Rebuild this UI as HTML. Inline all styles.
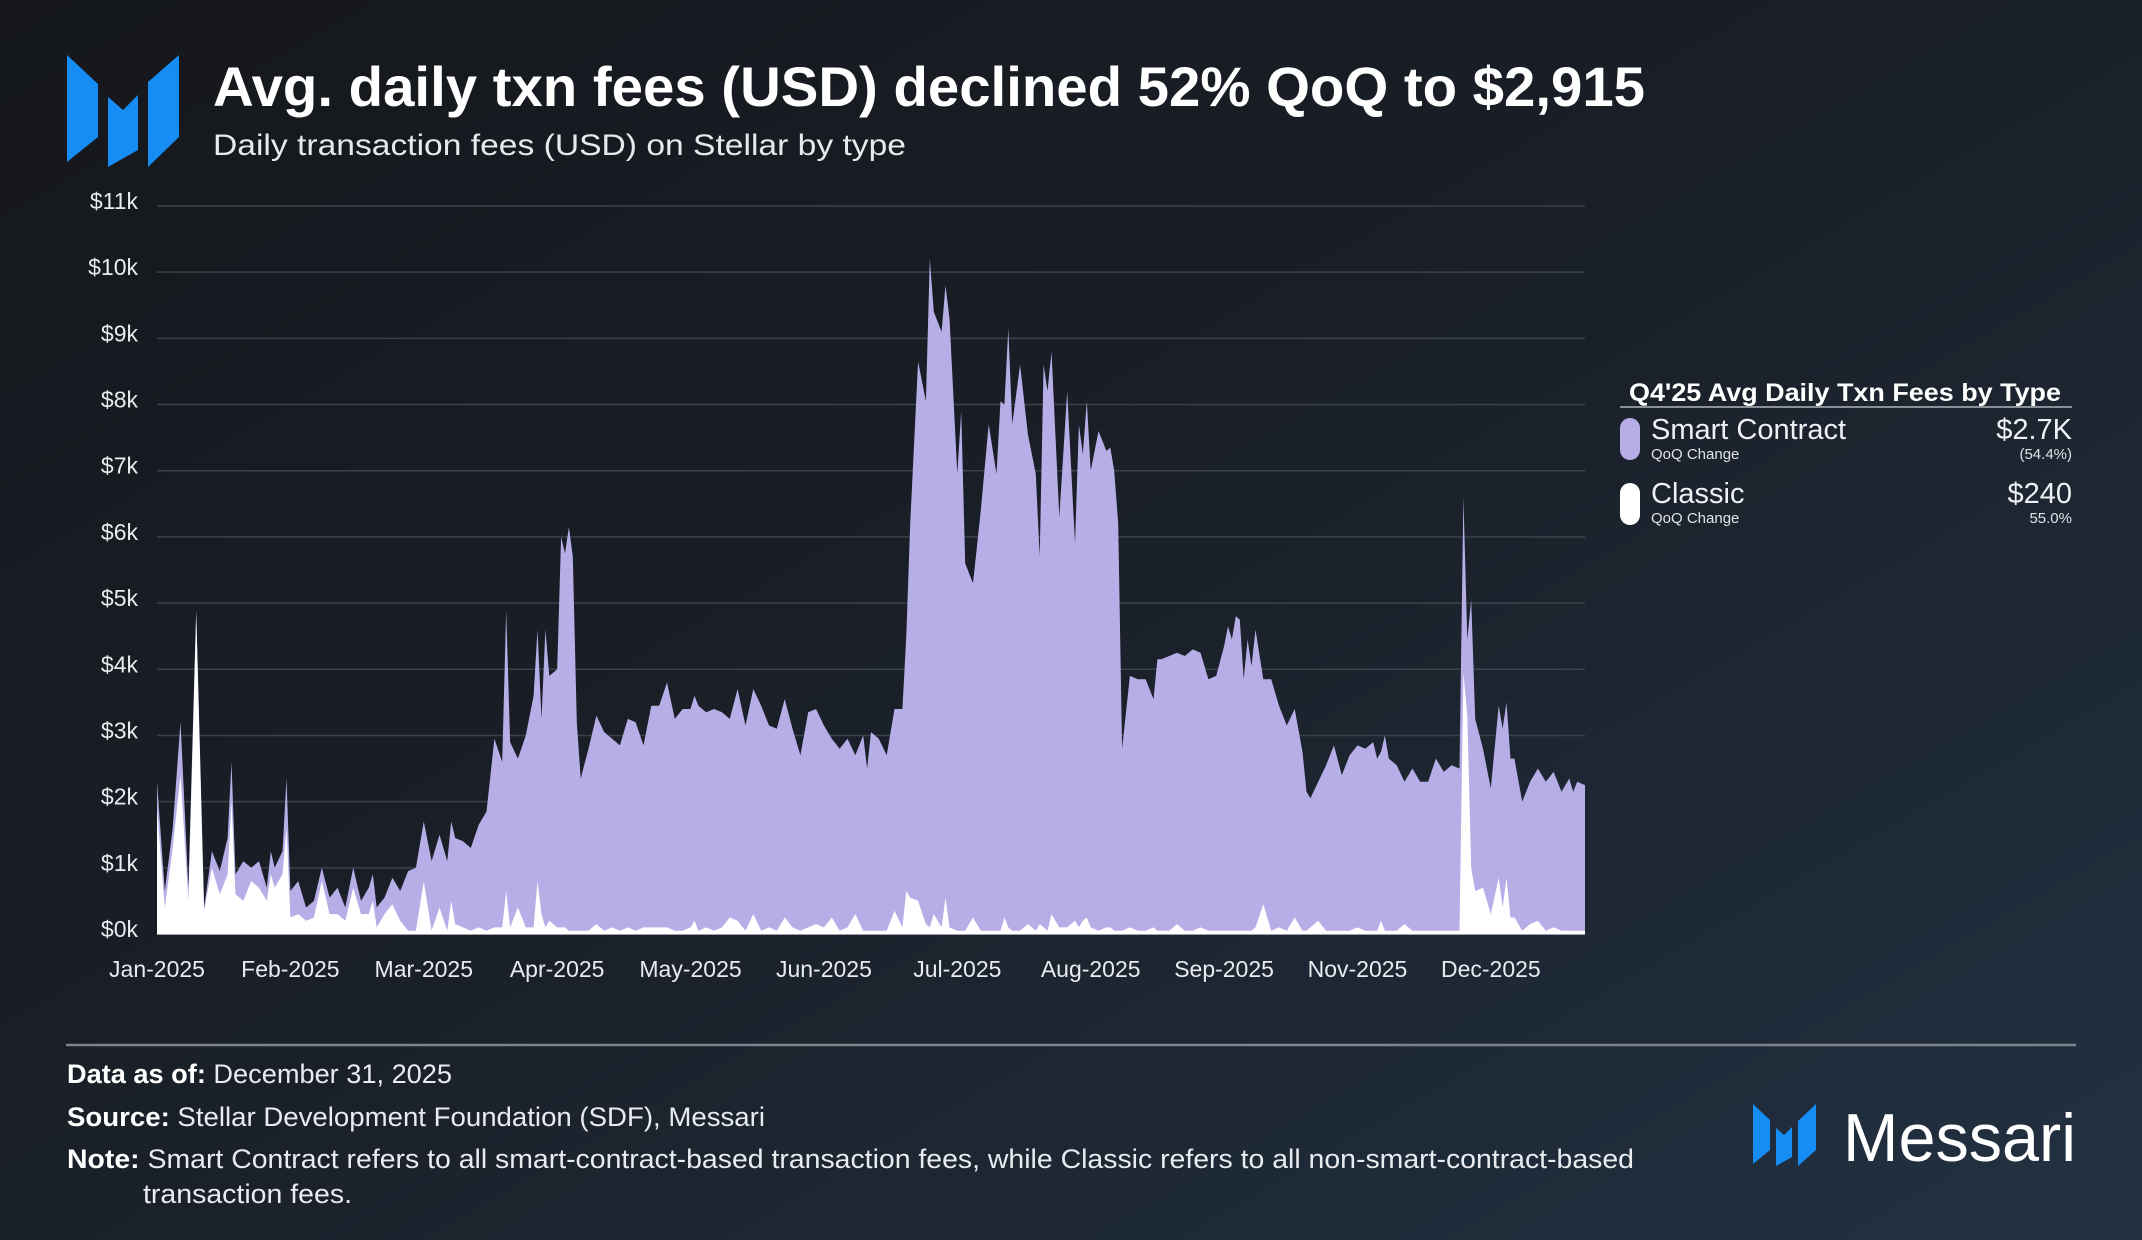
<!DOCTYPE html>
<html><head><meta charset="utf-8"><style>
html,body{margin:0;padding:0;width:2142px;height:1240px;overflow:hidden;background:#1a1f26;}
svg{display:block;font-family:"Liberation Sans",sans-serif;}
</style></head><body>
<svg id="root" width="2142" height="1240" viewBox="0 0 2142 1240">
<defs>
<linearGradient id="bg" x1="0" y1="0" x2="1" y2="1">
<stop offset="0" stop-color="#15171b"/><stop offset="0.5" stop-color="#1a2029"/><stop offset="1" stop-color="#223142"/>
</linearGradient>
</defs>
<rect x="0" y="0" width="2142" height="1240" fill="url(#bg)"/>
<g fill="#168df5">
<polygon points="67,55 98,84 98,137 67,162"/>
<polygon points="108,97 123,110 138,95 138,150 108,167"/>
<polygon points="148,82 179,55 179,137 148,167"/>
</g>
<text x="213" y="106" font-size="56" font-weight="bold" fill="#ffffff" textLength="1432" lengthAdjust="spacingAndGlyphs">Avg. daily txn fees (USD) declined 52% QoQ to $2,915</text>
<text x="213" y="155" font-size="30" fill="#e6e9ee" textLength="693" lengthAdjust="spacingAndGlyphs">Daily transaction fees (USD) on Stellar by type</text>
<g id="grid"></g>
<g id="yticks"></g>
<g id="plot"></g>
<g id="xticks"></g>
<g>
<text x="1845" y="401" font-size="25" font-weight="bold" fill="#ffffff" text-anchor="middle" textLength="432" lengthAdjust="spacingAndGlyphs">Q4'25 Avg Daily Txn Fees by Type</text>
<line x1="1620" y1="407" x2="2072" y2="407" stroke="#8a9099" stroke-width="2"/>
<g>
<rect x="1620" y="418" width="20" height="42" rx="10" fill="#b7aee8"/>
<text x="1651" y="439" font-size="29" fill="#eef1f4">Smart Contract</text>
<text x="1651" y="459" font-size="15" fill="#dfe3e8">QoQ Change</text>
<text x="2072" y="439" font-size="29" fill="#eef1f4" text-anchor="end">$2.7K</text>
<text x="2072" y="459" font-size="15" fill="#dfe3e8" text-anchor="end">(54.4%)</text>
</g>
<g>
<rect x="1620" y="483" width="20" height="42" rx="10" fill="#ffffff"/>
<text x="1651" y="503" font-size="29" fill="#eef1f4">Classic</text>
<text x="1651" y="523" font-size="15" fill="#dfe3e8">QoQ Change</text>
<text x="2072" y="503" font-size="29" fill="#eef1f4" text-anchor="end">$240</text>
<text x="2072" y="523" font-size="15" fill="#dfe3e8" text-anchor="end">55.0%</text>
</g>
</g>
<line x1="66" y1="1045" x2="2076" y2="1045" stroke="#7d848e" stroke-width="2.5"/>
<text x="67" y="1083" font-size="27" fill="#e8ebef" textLength="385" lengthAdjust="spacingAndGlyphs"><tspan font-weight="bold" fill="#ffffff">Data as of:</tspan> December 31, 2025</text>
<text x="67" y="1126" font-size="27" fill="#e8ebef" textLength="698" lengthAdjust="spacingAndGlyphs"><tspan font-weight="bold" fill="#ffffff">Source:</tspan> Stellar Development Foundation (SDF), Messari</text>
<text x="67" y="1168" font-size="27" fill="#e8ebef" textLength="1567" lengthAdjust="spacingAndGlyphs"><tspan font-weight="bold" fill="#ffffff">Note:</tspan> Smart Contract refers to all smart-contract-based transaction fees, while Classic refers to all non-smart-contract-based</text>
<text x="143" y="1203" font-size="27" fill="#e8ebef" textLength="209" lengthAdjust="spacingAndGlyphs">transaction fees.</text>
<g>
<g fill="#168df5">
<polygon points="1753,1104 1770,1120 1770,1150 1753,1164"/>
<polygon points="1776,1128 1784,1135 1792,1127 1792,1157 1776,1166"/>
<polygon points="1798,1121 1816,1104 1816,1150 1798,1166"/>
</g>
<text x="1843" y="1161" font-size="68" fill="#ffffff" textLength="233" lengthAdjust="spacingAndGlyphs">Messari</text>
</g>
</svg>
<script>
const days = [0,2,4,6,8,10,12,14,16,18,19,20,22,24,26,28,29,30,32,33,34,36,38,40,42,44,46,48,50,52,54,55,56,58,60,62,64,66,68,70,72,74,75,76,78,80,82,84,86,88,89,90,92,94,96,97,98,99,100,102,103,104,105,106,107,108,110,112,114,116,118,120,122,124,126,128,130,132,134,136,137,138,140,142,144,146,148,150,152,154,156,158,160,162,164,166,168,170,172,174,176,178,180,181,182,184,186,188,190,191,192,194,196,197,198,200,201,202,204,205,206,208,210,212,214,215,216,217,218,220,222,224,225,226,227,228,230,232,234,235,236,237,238,240,242,243,244,245,246,248,250,252,254,255,256,258,260,262,264,266,268,270,272,273,274,275,276,277,278,279,280,282,284,286,288,290,292,293,294,296,298,300,302,304,306,308,310,311,312,313,314,316,318,320,322,324,326,328,330,332,333,334,335,336,338,340,342,343,344,345,346,348,350,352,354,356,358,360,361,362,364];
const totalFeesK = [2.3,0.65,1.6,3.2,0.7,4.9,0.4,1.25,0.95,1.45,2.6,0.9,1.1,1.0,1.1,0.7,1.25,1.0,1.25,2.35,0.65,0.8,0.4,0.5,1.0,0.55,0.7,0.4,1.0,0.5,0.7,0.9,0.4,0.55,0.85,0.65,0.95,1.0,1.7,1.1,1.5,1.1,1.7,1.45,1.4,1.3,1.65,1.85,2.95,2.6,4.9,2.9,2.65,3.0,3.6,4.6,3.25,4.6,3.9,4.0,6.0,5.75,6.15,5.7,3.2,2.35,2.8,3.3,3.05,2.95,2.85,3.25,3.2,2.85,3.45,3.45,3.8,3.25,3.4,3.4,3.6,3.45,3.35,3.4,3.35,3.25,3.7,3.15,3.7,3.45,3.15,3.1,3.55,3.1,2.7,3.35,3.4,3.15,2.95,2.8,2.95,2.7,3.0,2.5,3.05,2.95,2.7,3.4,3.4,4.5,6.2,8.65,8.05,10.2,9.4,9.1,9.8,9.3,6.95,7.9,5.6,5.3,6.4,7.7,6.95,8.05,8.0,9.15,7.7,8.6,7.55,6.95,5.7,8.6,8.2,8.8,6.3,8.2,5.9,7.7,7.25,8.05,7.0,7.6,7.3,7.35,7.0,6.2,2.8,3.9,3.85,3.85,3.55,4.15,4.15,4.2,4.25,4.2,4.3,4.25,3.85,3.9,4.35,4.65,4.45,4.8,4.75,3.85,4.45,4.05,4.6,3.85,3.85,3.45,3.15,3.4,2.75,2.15,2.05,2.3,2.55,2.85,2.4,2.7,2.85,2.8,2.9,2.65,2.75,3.0,2.65,2.55,2.3,2.5,2.3,2.3,2.65,2.45,2.55,2.5,6.6,4.45,5.05,3.25,2.8,2.2,3.45,3.1,3.5,2.65,2.65,2.0,2.3,2.5,2.3,2.45,2.15,2.35,2.15,2.3,2.25];
const classicFeesK = [1.9,0.4,1.3,2.4,0.5,4.85,0.35,1.0,0.6,0.9,2.0,0.6,0.5,0.8,0.7,0.5,0.9,0.7,0.9,1.6,0.25,0.3,0.2,0.25,0.8,0.3,0.3,0.2,0.7,0.3,0.3,0.5,0.1,0.3,0.45,0.2,0.05,0.05,0.8,0.05,0.4,0.05,0.5,0.15,0.1,0.05,0.1,0.05,0.1,0.1,0.65,0.1,0.4,0.1,0.1,0.8,0.3,0.1,0.2,0.1,0.1,0.1,0.05,0.05,0.05,0.05,0.05,0.15,0.05,0.1,0.05,0.1,0.05,0.1,0.1,0.1,0.1,0.05,0.05,0.1,0.2,0.05,0.1,0.05,0.1,0.25,0.2,0.05,0.3,0.05,0.1,0.05,0.25,0.1,0.05,0.1,0.15,0.1,0.25,0.05,0.1,0.3,0.05,0.05,0.05,0.05,0.05,0.35,0.1,0.65,0.55,0.5,0.15,0.1,0.3,0.1,0.55,0.1,0.05,0.05,0.05,0.25,0.05,0.05,0.05,0.05,0.25,0.1,0.05,0.05,0.15,0.05,0.15,0.1,0.05,0.3,0.1,0.1,0.2,0.1,0.2,0.25,0.1,0.05,0.1,0.1,0.05,0.05,0.05,0.1,0.05,0.05,0.1,0.05,0.05,0.05,0.15,0.05,0.05,0.1,0.05,0.05,0.05,0.05,0.05,0.05,0.05,0.05,0.05,0.05,0.1,0.45,0.05,0.1,0.05,0.25,0.05,0.05,0.1,0.2,0.05,0.05,0.05,0.05,0.1,0.05,0.05,0.05,0.2,0.05,0.05,0.05,0.15,0.05,0.05,0.05,0.05,0.05,0.05,0.05,3.95,3.3,1.0,0.65,0.7,0.3,0.85,0.4,0.85,0.25,0.25,0.05,0.15,0.2,0.05,0.1,0.05,0.05,0.05,0.05,0.05];
const yTickValues = [0,1,2,3,4,5,6,7,8,9,10,11];
const yTickLabels = ["$0k","$1k","$2k","$3k","$4k","$5k","$6k","$7k","$8k","$9k","$10k","$11k"];
const xTickDays = [0,34,68,102,136,170,204,238,272,306,340];
const xTickLabels = ["Jan-2025","Feb-2025","Mar-2025","Apr-2025","May-2025","Jun-2025","Jul-2025","Aug-2025","Sep-2025","Nov-2025","Dec-2025"];

const NS = "http://www.w3.org/2000/svg";
const X0 = 157, X1 = 1585, Y0 = 934, Y1 = 206, DMAX = 364, VMAX = 11;
function xScale(d){ return X0 + d * (X1 - X0) / DMAX; }
function yScale(v){ return Y0 - v * (Y0 - Y1) / VMAX; }
function mk(tag, attrs){ const e = document.createElementNS(NS, tag); for (const k in attrs) e.setAttribute(k, attrs[k]); return e; }

const grid = document.getElementById('grid');
const yt = document.getElementById('yticks');
yTickValues.forEach((v, i) => {
  const ln = mk('line', {x1: X0, x2: X1, y1: yScale(v), y2: yScale(v), stroke: v === 0 ? '#9aa1aa' : '#3b424b', 'stroke-width': v === 0 ? 2 : 1.5});
  
  
  grid.appendChild(ln);
  const t = mk('text', {x: 138, y: yScale(v) + 3, 'font-size': 23, fill: '#e8ebef', 'text-anchor': 'end'});
  t.textContent = yTickLabels[i];
  
  
  yt.appendChild(t);
});

function areaPath(vals){
  let d = 'M' + xScale(days[0]) + ',' + Y0;
  for (let i = 0; i < days.length; i++) d += ' L' + xScale(days[i]).toFixed(1) + ',' + yScale(vals[i]).toFixed(1);
  d += ' L' + xScale(days[days.length - 1]) + ',' + Y0 + ' Z';
  return d;
}
const plot = document.getElementById('plot');
const pa = mk('path', {d: areaPath(totalFeesK), fill: '#b7aee8', 'stroke-linejoin': 'round'});


plot.appendChild(pa);
const ca = mk('path', {d: areaPath(classicFeesK), fill: '#ffffff'});


plot.appendChild(ca);

const xt = document.getElementById('xticks');
xTickDays.forEach((d, i) => {
  const t = mk('text', {x: xScale(d), y: 977, 'font-size': 23, fill: '#e8ebef', 'text-anchor': 'middle'});
  t.textContent = xTickLabels[i];
  
  
  xt.appendChild(t);
});
</script>
</body></html>
